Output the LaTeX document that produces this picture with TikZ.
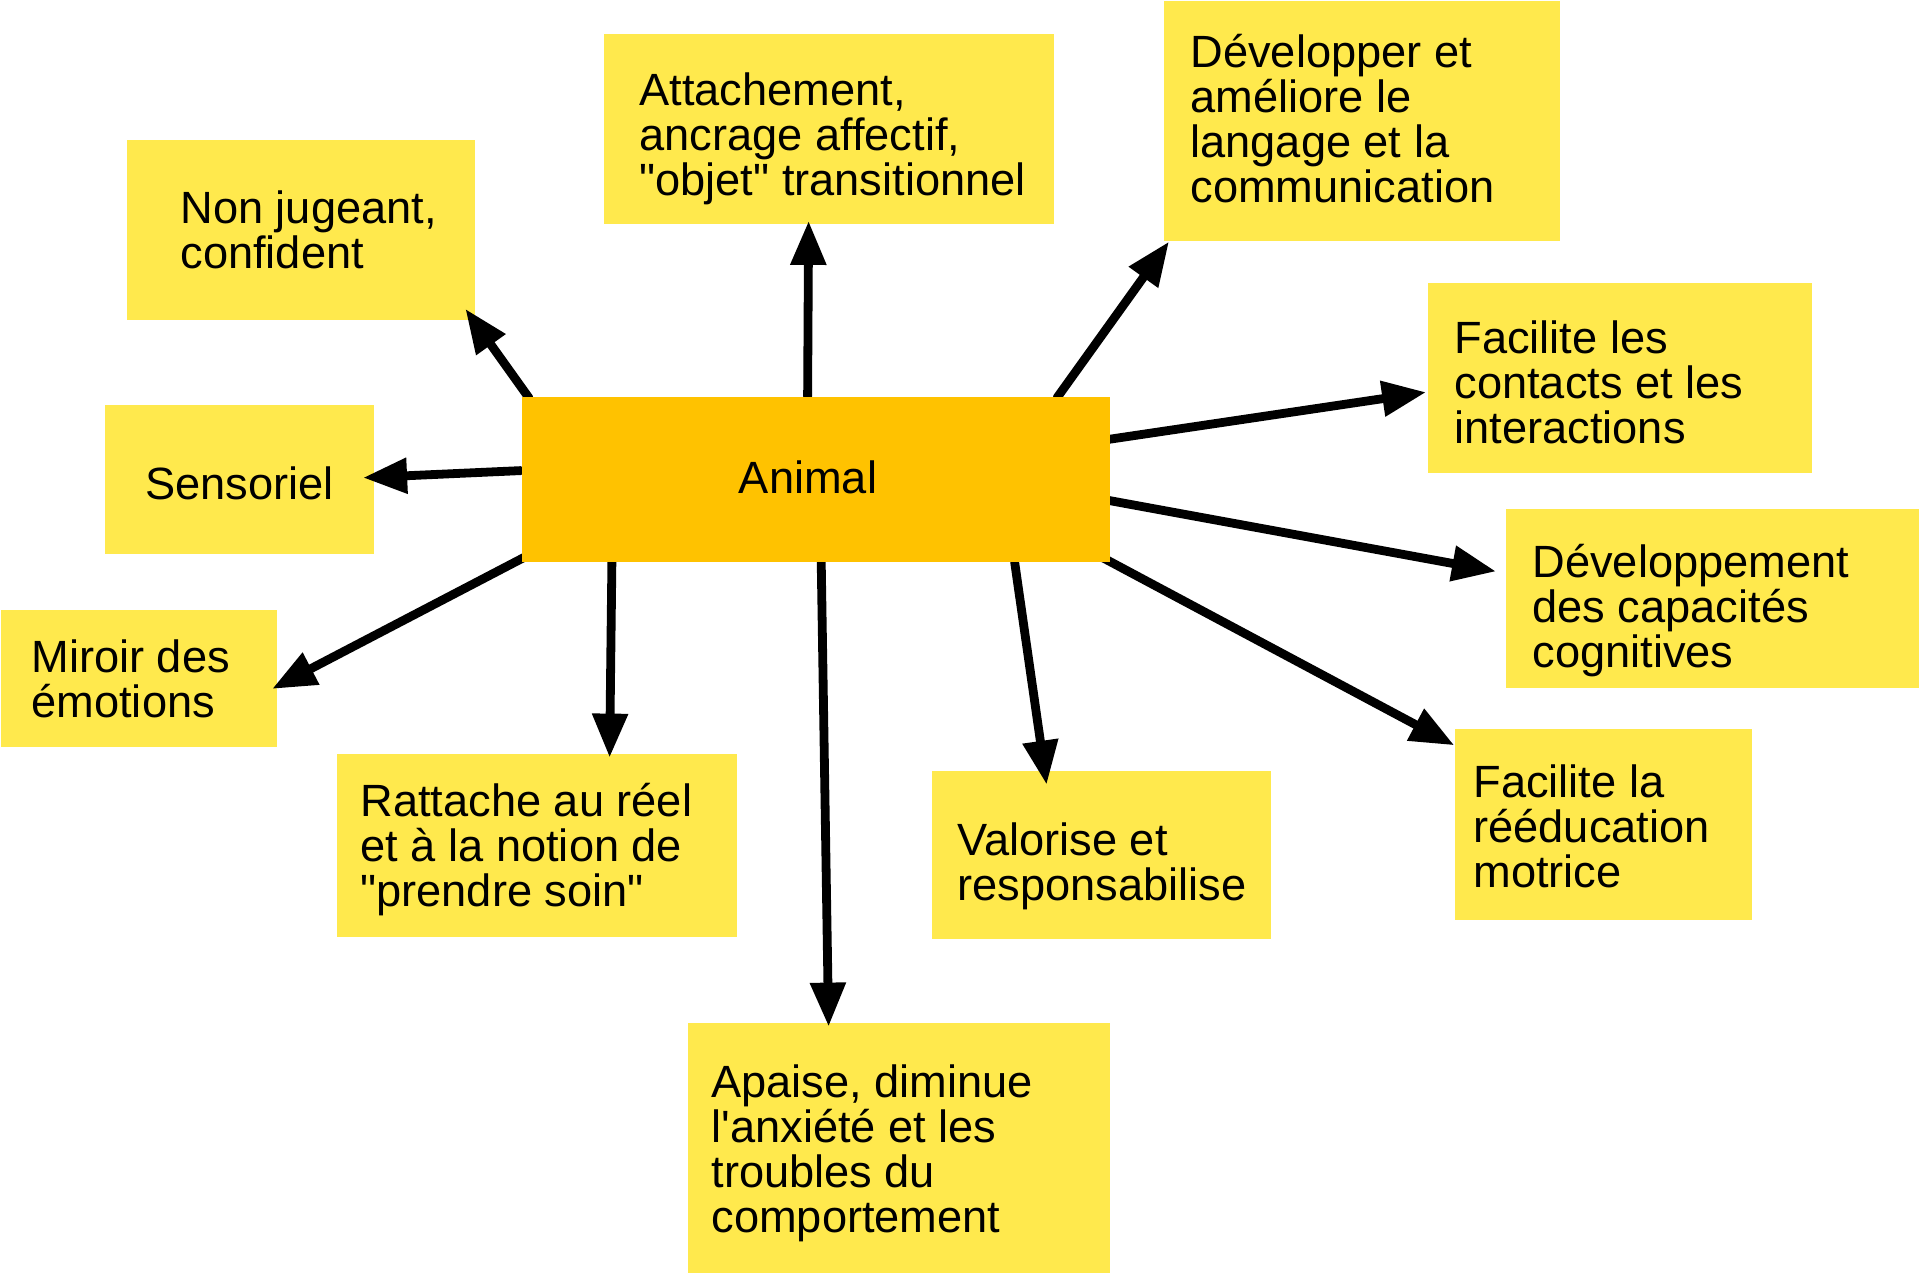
\documentclass[tikz,border=0pt]{standalone}
\usepackage{fontspec}
\setmainfont{Liberation Sans}
\usetikzlibrary{arrows.meta,calc,fit}
\definecolor{postit}{RGB}{255,233,77}
\definecolor{hubfill}{RGB}{255,194,0}
\pgfdeclarelayer{back}
\pgfdeclarelayer{mid}
\pgfsetlayers{back,mid,main}
% fixed height for the first line, so that text is placed by its first baseline
\newcommand\firstline{\rule{0pt}{18pt}}
\newcommand\dq{\textquotedbl}

\begin{document}
\begin{tikzpicture}[x=0.5pt,y=-0.5pt,
  card/.style={fill=postit, draw=none, inner sep=0pt},
  hub/.style={fill=hubfill, draw=none, inner sep=0pt},
  lbl/.style={anchor=north west, inner sep=0pt, align=left,
              font=\fontsize{22.6}{22.5}\selectfont},
  link/.style={line width=4.4pt, line cap=round,
               -{Triangle[length=22pt,width=17pt]}}]

\useasboundingbox (0,0) rectangle (1920,1275);

\begin{pgfonlayer}{back}
  \fill[white] (0,0) rectangle (1920,1275);

  \node[card, fit={(127,140) (475,320)}] (nonj) {};
  \node[lbl] (nonj-t) at ($(nonj.north west)+(53.5,47)$)
    {\firstline Non jugeant,\\confident};

  \node[card, fit={(604,34) (1054,224)}] (attach) {};
  \node[lbl] (attach-t) at ($(attach.north west)+(35.5,35)$)
    {\firstline Attachement,\\ancrage affectif,\\\dq objet\dq{} transitionnel};

  \node[card, fit={(1164,1) (1560,241)}] (langage) {};
  \node[lbl] (langage-t) at ($(langage.north west)+(26.5,30.5)$)
    {\firstline Développer et\\améliore le\\langage et la\\communication};

  \node[card, fit={(1428,283) (1812,473)}] (contact) {};
  \node[lbl] (contact-t) at ($(contact.north west)+(26.5,34)$)
    {\firstline Facilite les\\contacts et les\\interactions};

  \node[card, fit={(105,405) (374,554)}] (sens) {};
  \node[lbl] (sens-t) at ($(sens.north west)+(40.5,58)$)
    {\firstline Sensoriel};

  \node[card, fit={(1506,509) (1919,688)}] (cogn) {};
  \node[lbl] (cogn-t) at ($(cogn.north west)+(26.5,32)$)
    {\firstline Développement\\des capacités\\cognitives};

  \node[card, fit={(1,610) (277,747)}] (miroir) {};
  \node[lbl] (miroir-t) at ($(miroir.north west)+(30.5,26)$)
    {\firstline Miroir des\\émotions};

  \node[card, fit={(337,754) (737,937)}] (reel) {};
  \node[lbl] (reel-t) at ($(reel.north west)+(23.5,26)$)
    {\firstline Rattache au réel\\et à la notion de\\\dq prendre soin\dq};

  \node[card, fit={(932,771) (1271,939)}] (valor) {};
  \node[lbl] (valor-t) at ($(valor.north west)+(25.5,48)$)
    {\firstline Valorise et\\responsabilise};

  \node[card, fit={(1455,729) (1752,920)}] (motr) {};
  \node[lbl] (motr-t) at ($(motr.north west)+(18.5,32)$)
    {\firstline Facilite la\\rééducation\\motrice};

  \node[card, fit={(688,1023) (1110,1273)}] (apaise) {};
  \node[lbl] (apaise-t) at ($(apaise.north west)+(23.5,38)$)
    {\firstline Apaise, diminue\\l\textquotesingle anxiété et les\\troubles du\\comportement};
\end{pgfonlayer}

% central box
\node[hub, fit={(522,397) (1110,562)}] (animal) {};
\node[anchor=base, inner sep=0pt, font=\fontsize{22.6}{22.5}\selectfont]
  (animal-t) at ($(animal.center)+(-8,14)$) {Animal};

\begin{pgfonlayer}{mid}
  \draw[link] ($(animal.north west)+(7.5,1.5)$)  -- ($(nonj.south east)+(-10,-11.5)$);
  \draw[link] ($(animal.north west)+(286,0)$)    -- ($(attach.south west)+(205,-3.5)$);
  \draw[link] ($(animal.north east)+(-53.3,1)$)  -- ($(langage.south west)+(5.4,0.2)$);
  \draw[link] ($(animal.north east)+(-0.6,42.6)$) -- ($(contact.south west)+(-1.5,-81.2)$);
  \draw[link] ($(animal.north west)+(-1,74)$)    -- ($(sens.south east)+(-11.3,-76.7)$);
  \draw[link] ($(animal.north east)+(-1.8,103.8)$) -- ($(cogn.north west)+(-9.6,62.8)$);
  \draw[link] ($(animal.south west)+(6.5,-7.1)$) -- ($(miroir.north east)+(-5.3,79.3)$);
  \draw[link] ($(animal.south west)+(90.3,-1)$)  -- ($(reel.north west)+(273,4)$);
  \draw[link] ($(animal.south west)+(299.6,-1)$) -- ($(apaise.north west)+(141,4)$);
  \draw[link] ($(animal.south west)+(493,-0.5)$) -- ($(valor.north west)+(115,14)$);
  \draw[link] ($(animal.south east)+(-11,-6.5)$) -- ($(motr.north west)+(-0.3,16.7)$);
\end{pgfonlayer}

\end{tikzpicture}
\end{document}
